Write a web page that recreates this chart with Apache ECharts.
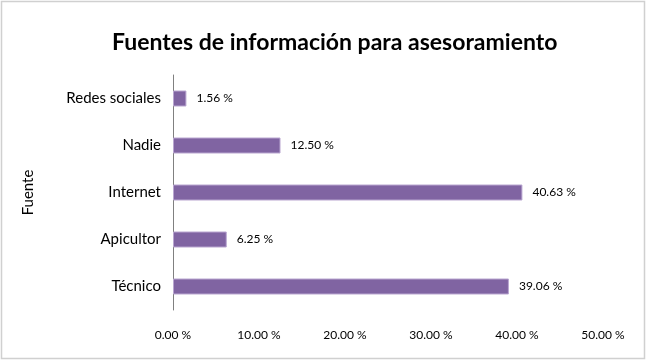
<!DOCTYPE html>
<html><head><meta charset="utf-8">
<script src="https://cdn.jsdelivr.net/npm/echarts@6/dist/echarts.min.js"></script>
<style>html,body{margin:0;padding:0;background:#fff}#c{width:647px;height:361px}</style>
</head><body><div id="c"></div>
<script>
const categories = ["Técnico", "Apicultor", "Internet", "Nadie", "Redes sociales"];
const values = [39.06, 6.25, 40.63, 12.50, 1.56];
const xTicks = [0, 10, 20, 30, 40, 50];
const title = "Fuentes de información para asesoramiento";
const yAxisName = "Fuente";

const font = "Lato, 'Open Sans', sans-serif";
const chart = echarts.init(document.getElementById('c'));
chart.setOption({
  animation: false,
  backgroundColor: '#fff',
  graphic: [{type:'rect', shape:{x:1.5,y:1.5,width:643,height:357}, style:{fill:'none', stroke:'#d0d0d0', lineWidth:1.5}, silent:true}],
  title: {text: title, left: 107, top: 26, textStyle:{fontFamily: font, fontSize: 23, fontWeight:'bold', color:'#000'}},
  grid: {left: 173, right: 44, top: 75, bottom: 51},
  xAxis: {type:'value', min: xTicks[0], max: xTicks[xTicks.length-1], interval: 10,
    axisLine:{show:false}, axisTick:{show:false}, splitLine:{show:false},
    axisLabel:{margin: 19, fontFamily: font, fontSize: 12, color:'#000', formatter: v => v.toFixed(2) + ' %'}},
  yAxis: {type:'category', data: categories, name: yAxisName, nameLocation:'middle', nameGap: 137,
    nameTextStyle:{fontFamily: font, fontSize: 15, color:'#000'},
    axisLine:{show:true, lineStyle:{color:'#808080', width:1}}, axisTick:{show:false},
    axisLabel:{margin: 12, fontFamily: font, fontSize: 15, color:'#000'}},
  series: [{type:'bar', data: values, barWidth: 16,
    itemStyle:{color:'#8064A2', borderColor:'#b9a6d0', borderWidth:1},
    label:{show:true, position:'right', distance: 10, fontFamily: font, fontSize: 12, color:'#000', formatter: p => p.value.toFixed(2) + ' %'}}]
});
</script></body></html>
